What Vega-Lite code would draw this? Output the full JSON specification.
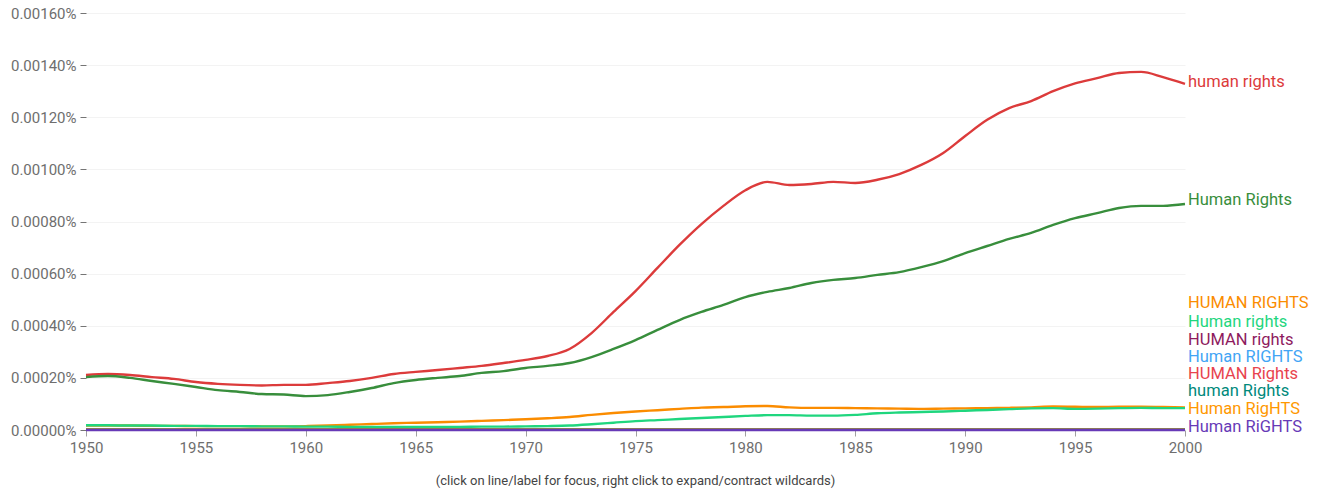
{
  "$schema": "https://vega.github.io/schema/vega-lite/v6.json",
  "autosize": "none",
  "padding": {"left": 86, "top": 13, "right": 150, "bottom": 63},
  "width": 1099,
  "height": 417,
  "config": {"view": {"stroke": null}, "font": "Roboto"},
  "title": {"text": "(click on line/label for focus, right click to expand/contract wildcards)", "orient": "bottom", "anchor": "middle", "fontSize": 13, "fontWeight": "normal", "color": "#444444", "offset": 20, "font": "Roboto"},
  "datasets": {
    "series": [
      {"year":1950,"human rights":0.000211,"Human Rights":0.000203,"HUMAN RIGHTS":0.000017,"Human rights":0.000018,"HUMAN rights":0.000002,"Human RIGHTS":0.000001,"HUMAN Rights":0.000001,"human Rights":0.000002,"Human RigHTS":0.000001,"Human RiGHTS":0.0000002},
      {"year":1951,"human rights":0.000215,"Human Rights":0.000207,"HUMAN RIGHTS":0.000017,"Human rights":0.000018,"HUMAN rights":0.000002,"Human RIGHTS":0.000001,"HUMAN Rights":0.000001,"human Rights":0.000002,"Human RigHTS":0.000001,"Human RiGHTS":0.0000002},
      {"year":1952,"human rights":0.000211,"Human Rights":0.0002,"HUMAN RIGHTS":0.000017,"Human rights":0.000017,"HUMAN rights":0.000002,"Human RIGHTS":0.000001,"HUMAN Rights":0.000001,"human Rights":0.000002,"Human RigHTS":0.000001,"Human RiGHTS":0.0000002},
      {"year":1953,"human rights":0.000203,"Human Rights":0.000188,"HUMAN RIGHTS":0.000016,"Human rights":0.000017,"HUMAN rights":0.000002,"Human RIGHTS":0.000001,"HUMAN Rights":0.000001,"human Rights":0.000002,"Human RigHTS":0.000001,"Human RiGHTS":0.0000002},
      {"year":1954,"human rights":0.000196,"Human Rights":0.000177,"HUMAN RIGHTS":0.000016,"Human rights":0.000016,"HUMAN rights":0.000002,"Human RIGHTS":0.000001,"HUMAN Rights":0.000001,"human Rights":0.000002,"Human RigHTS":0.000001,"Human RiGHTS":0.0000002},
      {"year":1955,"human rights":0.000184,"Human Rights":0.000165,"HUMAN RIGHTS":0.000015,"Human rights":0.000016,"HUMAN rights":0.000002,"Human RIGHTS":0.000001,"HUMAN Rights":0.000001,"human Rights":0.000002,"Human RigHTS":0.000001,"Human RiGHTS":0.0000002},
      {"year":1956,"human rights":0.000177,"Human Rights":0.000153,"HUMAN RIGHTS":0.000015,"Human rights":0.000015,"HUMAN rights":0.000002,"Human RIGHTS":0.000001,"HUMAN Rights":0.000001,"human Rights":0.000002,"Human RigHTS":0.000001,"Human RiGHTS":0.0000002},
      {"year":1957,"human rights":0.000173,"Human Rights":0.000146,"HUMAN RIGHTS":0.000015,"Human rights":0.000015,"HUMAN rights":0.000002,"Human RIGHTS":0.000001,"HUMAN Rights":0.000001,"human Rights":0.000002,"Human RigHTS":0.000001,"Human RiGHTS":0.0000002},
      {"year":1958,"human rights":0.000171,"Human Rights":0.000138,"HUMAN RIGHTS":0.000014,"Human rights":0.000014,"HUMAN rights":0.000002,"Human RIGHTS":0.000001,"HUMAN Rights":0.000001,"human Rights":0.000002,"Human RigHTS":0.000001,"Human RiGHTS":0.0000002},
      {"year":1959,"human rights":0.000173,"Human Rights":0.000136,"HUMAN RIGHTS":0.000014,"Human rights":0.000014,"HUMAN rights":0.000002,"Human RIGHTS":0.000001,"HUMAN Rights":0.000001,"human Rights":0.000002,"Human RigHTS":0.000001,"Human RiGHTS":0.0000002},
      {"year":1960,"human rights":0.000173,"Human Rights":0.00013,"HUMAN RIGHTS":0.000015,"Human rights":0.000013,"HUMAN rights":0.000002,"Human RIGHTS":0.000001,"HUMAN Rights":0.000001,"human Rights":0.000002,"Human RigHTS":0.000001,"Human RiGHTS":0.0000002},
      {"year":1961,"human rights":0.00018,"Human Rights":0.000134,"HUMAN RIGHTS":0.000017,"Human rights":0.000013,"HUMAN rights":0.000002,"Human RIGHTS":0.000001,"HUMAN Rights":0.000001,"human Rights":0.000002,"Human RigHTS":0.000001,"Human RiGHTS":0.0000002},
      {"year":1962,"human rights":0.000188,"Human Rights":0.000146,"HUMAN RIGHTS":0.00002,"Human rights":0.000012,"HUMAN rights":0.000002,"Human RIGHTS":0.000001,"HUMAN Rights":0.000001,"human Rights":0.000002,"Human RigHTS":0.000001,"Human RiGHTS":0.0000002},
      {"year":1963,"human rights":0.0002,"Human Rights":0.000161,"HUMAN RIGHTS":0.000023,"Human rights":0.000012,"HUMAN rights":0.000002,"Human RIGHTS":0.000001,"HUMAN Rights":0.000001,"human Rights":0.000002,"Human RigHTS":0.000001,"Human RiGHTS":0.0000002},
      {"year":1964,"human rights":0.000215,"Human Rights":0.00018,"HUMAN RIGHTS":0.000026,"Human rights":0.000012,"HUMAN rights":0.000002,"Human RIGHTS":0.000001,"HUMAN Rights":0.000001,"human Rights":0.000002,"Human RigHTS":0.000001,"Human RiGHTS":0.0000002},
      {"year":1965,"human rights":0.000223,"Human Rights":0.000192,"HUMAN RIGHTS":0.000028,"Human rights":0.000012,"HUMAN rights":0.000002,"Human RIGHTS":0.000001,"HUMAN Rights":0.000001,"human Rights":0.000002,"Human RigHTS":0.000001,"Human RiGHTS":0.0000002},
      {"year":1966,"human rights":0.00023,"Human Rights":0.0002,"HUMAN RIGHTS":0.00003,"Human rights":0.000012,"HUMAN rights":0.000002,"Human RIGHTS":0.000001,"HUMAN Rights":0.000001,"human Rights":0.000002,"Human RigHTS":0.000001,"Human RiGHTS":0.0000002},
      {"year":1967,"human rights":0.000238,"Human Rights":0.000207,"HUMAN RIGHTS":0.000032,"Human rights":0.000012,"HUMAN rights":0.000002,"Human RIGHTS":0.000001,"HUMAN Rights":0.000001,"human Rights":0.000002,"Human RigHTS":0.000001,"Human RiGHTS":0.0000002},
      {"year":1968,"human rights":0.000246,"Human Rights":0.000219,"HUMAN RIGHTS":0.000035,"Human rights":0.000013,"HUMAN rights":0.000002,"Human RIGHTS":0.000001,"HUMAN Rights":0.000001,"human Rights":0.000002,"Human RigHTS":0.000001,"Human RiGHTS":0.0000002},
      {"year":1969,"human rights":0.000257,"Human Rights":0.000226,"HUMAN RIGHTS":0.000038,"Human rights":0.000013,"HUMAN rights":0.000002,"Human RIGHTS":0.000001,"HUMAN Rights":0.000001,"human Rights":0.000002,"Human RigHTS":0.000001,"Human RiGHTS":0.0000002},
      {"year":1970,"human rights":0.000269,"Human Rights":0.000238,"HUMAN RIGHTS":0.000041,"Human rights":0.000014,"HUMAN rights":0.000002,"Human RIGHTS":0.000001,"HUMAN Rights":0.000001,"human Rights":0.000002,"Human RigHTS":0.000001,"Human RiGHTS":0.0000002},
      {"year":1971,"human rights":0.000284,"Human Rights":0.000246,"HUMAN RIGHTS":0.000045,"Human rights":0.000015,"HUMAN rights":0.000002,"Human RIGHTS":0.000001,"HUMAN Rights":0.000001,"human Rights":0.000002,"Human RigHTS":0.000001,"Human RiGHTS":0.0000002},
      {"year":1972,"human rights":0.000311,"Human Rights":0.000257,"HUMAN RIGHTS":0.00005,"Human rights":0.000017,"HUMAN rights":0.000002,"Human RIGHTS":0.000001,"HUMAN Rights":0.000001,"human Rights":0.000002,"Human RigHTS":0.000001,"Human RiGHTS":0.0000002},
      {"year":1973,"human rights":0.000372,"Human Rights":0.00028,"HUMAN RIGHTS":0.000058,"Human rights":0.000022,"HUMAN rights":0.000002,"Human RIGHTS":0.000001,"HUMAN Rights":0.000001,"human Rights":0.000002,"Human RigHTS":0.000001,"Human RiGHTS":0.0000002},
      {"year":1974,"human rights":0.000453,"Human Rights":0.000311,"HUMAN RIGHTS":0.000065,"Human rights":0.000028,"HUMAN rights":0.000002,"Human RIGHTS":0.000001,"HUMAN Rights":0.000001,"human Rights":0.000002,"Human RigHTS":0.000001,"Human RiGHTS":0.0000002},
      {"year":1975,"human rights":0.000533,"Human Rights":0.000345,"HUMAN RIGHTS":0.000071,"Human rights":0.000034,"HUMAN rights":0.000002,"Human RIGHTS":0.000001,"HUMAN Rights":0.000001,"human Rights":0.000002,"Human RigHTS":0.000001,"Human RiGHTS":0.0000002},
      {"year":1976,"human rights":0.000622,"Human Rights":0.000384,"HUMAN RIGHTS":0.000076,"Human rights":0.000038,"HUMAN rights":0.000002,"Human RIGHTS":0.000001,"HUMAN Rights":0.000001,"human Rights":0.000002,"Human RigHTS":0.000001,"Human RiGHTS":0.0000002},
      {"year":1977,"human rights":0.00071,"Human Rights":0.000422,"HUMAN RIGHTS":0.000081,"Human rights":0.000042,"HUMAN rights":0.000002,"Human RIGHTS":0.000001,"HUMAN Rights":0.000001,"human Rights":0.000002,"Human RigHTS":0.000001,"Human RiGHTS":0.0000002},
      {"year":1978,"human rights":0.00079,"Human Rights":0.000453,"HUMAN RIGHTS":0.000086,"Human rights":0.000046,"HUMAN rights":0.000002,"Human RIGHTS":0.000001,"HUMAN Rights":0.000001,"human Rights":0.000002,"Human RigHTS":0.000001,"Human RiGHTS":0.0000002},
      {"year":1979,"human rights":0.00086,"Human Rights":0.00048,"HUMAN RIGHTS":0.000088,"Human rights":0.00005,"HUMAN rights":0.000002,"Human RIGHTS":0.000001,"HUMAN Rights":0.000001,"human Rights":0.000002,"Human RigHTS":0.000001,"Human RiGHTS":0.0000002},
      {"year":1980,"human rights":0.00092,"Human Rights":0.00051,"HUMAN RIGHTS":0.000091,"Human rights":0.000054,"HUMAN rights":0.000002,"Human RIGHTS":0.000001,"HUMAN Rights":0.000001,"human Rights":0.000002,"Human RigHTS":0.000001,"Human RiGHTS":0.0000002},
      {"year":1981,"human rights":0.000952,"Human Rights":0.00053,"HUMAN RIGHTS":0.000092,"Human rights":0.000057,"HUMAN rights":0.000002,"Human RIGHTS":0.000001,"HUMAN Rights":0.000001,"human Rights":0.000002,"Human RigHTS":0.000001,"Human RiGHTS":0.0000002},
      {"year":1982,"human rights":0.00094,"Human Rights":0.000545,"HUMAN RIGHTS":0.000087,"Human rights":0.000057,"HUMAN rights":0.000002,"Human RIGHTS":0.000001,"HUMAN Rights":0.000001,"human Rights":0.000002,"Human RigHTS":0.000001,"Human RiGHTS":0.0000002},
      {"year":1983,"human rights":0.000944,"Human Rights":0.000564,"HUMAN RIGHTS":0.000085,"Human rights":0.000055,"HUMAN rights":0.000002,"Human RIGHTS":0.000001,"HUMAN Rights":0.000001,"human Rights":0.000002,"Human RigHTS":0.000001,"Human RiGHTS":0.0000002},
      {"year":1984,"human rights":0.000952,"Human Rights":0.000576,"HUMAN RIGHTS":0.000085,"Human rights":0.000055,"HUMAN rights":0.000002,"Human RIGHTS":0.000001,"HUMAN Rights":0.000001,"human Rights":0.000002,"Human RigHTS":0.000001,"Human RiGHTS":0.0000002},
      {"year":1985,"human rights":0.000948,"Human Rights":0.000583,"HUMAN RIGHTS":0.000084,"Human rights":0.000058,"HUMAN rights":0.000002,"Human RIGHTS":0.000001,"HUMAN Rights":0.000001,"human Rights":0.000002,"Human RigHTS":0.000001,"Human RiGHTS":0.0000002},
      {"year":1986,"human rights":0.00096,"Human Rights":0.000595,"HUMAN RIGHTS":0.000083,"Human rights":0.000064,"HUMAN rights":0.000002,"Human RIGHTS":0.000001,"HUMAN Rights":0.000001,"human Rights":0.000002,"Human RigHTS":0.000001,"Human RiGHTS":0.0000002},
      {"year":1987,"human rights":0.000982,"Human Rights":0.000606,"HUMAN RIGHTS":0.000082,"Human rights":0.000067,"HUMAN rights":0.000002,"Human RIGHTS":0.000001,"HUMAN Rights":0.000001,"human Rights":0.000002,"Human RigHTS":0.000001,"Human RiGHTS":0.0000002},
      {"year":1988,"human rights":0.001017,"Human Rights":0.000625,"HUMAN RIGHTS":0.000081,"Human rights":0.000069,"HUMAN rights":0.000002,"Human RIGHTS":0.000001,"HUMAN Rights":0.000001,"human Rights":0.000002,"Human RigHTS":0.000001,"Human RiGHTS":0.0000002},
      {"year":1989,"human rights":0.001063,"Human Rights":0.000648,"HUMAN RIGHTS":0.000082,"Human rights":0.000071,"HUMAN rights":0.000002,"Human RIGHTS":0.000001,"HUMAN Rights":0.000001,"human Rights":0.000002,"Human RigHTS":0.000001,"Human RiGHTS":0.0000002},
      {"year":1990,"human rights":0.001128,"Human Rights":0.000679,"HUMAN RIGHTS":0.000083,"Human rights":0.000074,"HUMAN rights":0.000002,"Human RIGHTS":0.000001,"HUMAN Rights":0.000001,"human Rights":0.000002,"Human RigHTS":0.000001,"Human RiGHTS":0.0000002},
      {"year":1991,"human rights":0.00119,"Human Rights":0.000706,"HUMAN RIGHTS":0.000084,"Human rights":0.000077,"HUMAN rights":0.000002,"Human RIGHTS":0.000001,"HUMAN Rights":0.000001,"human Rights":0.000002,"Human RigHTS":0.000001,"Human RiGHTS":0.0000002},
      {"year":1992,"human rights":0.001235,"Human Rights":0.000733,"HUMAN RIGHTS":0.000085,"Human rights":0.00008,"HUMAN rights":0.000002,"Human RIGHTS":0.000001,"HUMAN Rights":0.000001,"human Rights":0.000002,"Human RigHTS":0.000001,"Human RiGHTS":0.0000002},
      {"year":1993,"human rights":0.001262,"Human Rights":0.000756,"HUMAN RIGHTS":0.000087,"Human rights":0.000083,"HUMAN rights":0.000002,"Human RIGHTS":0.000001,"HUMAN Rights":0.000001,"human Rights":0.000002,"Human RigHTS":0.000001,"Human RiGHTS":0.0000002},
      {"year":1994,"human rights":0.0013,"Human Rights":0.000787,"HUMAN RIGHTS":0.00009,"Human rights":0.000084,"HUMAN rights":0.000002,"Human RIGHTS":0.000001,"HUMAN Rights":0.000001,"human Rights":0.000002,"Human RigHTS":0.000001,"Human RiGHTS":0.0000002},
      {"year":1995,"human rights":0.00133,"Human Rights":0.000813,"HUMAN RIGHTS":0.000089,"Human rights":0.000081,"HUMAN rights":0.000002,"Human RIGHTS":0.000001,"HUMAN Rights":0.000001,"human Rights":0.000002,"Human RigHTS":0.000001,"Human RiGHTS":0.0000002},
      {"year":1996,"human rights":0.00135,"Human Rights":0.000832,"HUMAN RIGHTS":0.000088,"Human rights":0.000082,"HUMAN rights":0.000002,"Human RIGHTS":0.000001,"HUMAN Rights":0.000001,"human Rights":0.000002,"Human RigHTS":0.000001,"Human RiGHTS":0.0000002},
      {"year":1997,"human rights":0.00137,"Human Rights":0.000852,"HUMAN RIGHTS":0.000089,"Human rights":0.000084,"HUMAN rights":0.000002,"Human RIGHTS":0.000001,"HUMAN Rights":0.000001,"human Rights":0.000002,"Human RigHTS":0.000001,"Human RiGHTS":0.0000002},
      {"year":1998,"human rights":0.001374,"Human Rights":0.00086,"HUMAN RIGHTS":0.000089,"Human rights":0.000085,"HUMAN rights":0.000002,"Human RIGHTS":0.000001,"HUMAN Rights":0.000001,"human Rights":0.000002,"Human RigHTS":0.000001,"Human RiGHTS":0.0000002},
      {"year":1999,"human rights":0.001354,"Human Rights":0.00086,"HUMAN RIGHTS":0.000088,"Human rights":0.000084,"HUMAN rights":0.000002,"Human RIGHTS":0.000001,"HUMAN Rights":0.000001,"human Rights":0.000002,"Human RigHTS":0.000001,"Human RiGHTS":0.0000002},
      {"year":2000,"human rights":0.001328,"Human Rights":0.000867,"HUMAN RIGHTS":0.000087,"Human rights":0.000084,"HUMAN rights":0.000002,"Human RIGHTS":0.000001,"HUMAN Rights":0.000001,"human Rights":0.000002,"Human RigHTS":0.000001,"Human RiGHTS":0.0000002}
    ],
    "labels": [
      {"s":"human rights","lv":0.001335},
      {"s":"Human Rights","lv":0.000882},
      {"s":"HUMAN RIGHTS","lv":0.000487},
      {"s":"Human rights","lv":0.000414},
      {"s":"HUMAN rights","lv":0.000345},
      {"s":"Human RIGHTS","lv":0.00028},
      {"s":"HUMAN Rights","lv":0.000215},
      {"s":"human Rights","lv":0.00015},
      {"s":"Human RigHTS","lv":0.0000806},
      {"s":"Human RiGHTS","lv":0.0000115}
    ]
  },
  "layer": [
    {
      "data": {"name": "series"},
      "transform": [{"fold": ["human rights","Human Rights","HUMAN RIGHTS","Human rights","HUMAN rights","Human RIGHTS","HUMAN Rights","human Rights","Human RigHTS","Human RiGHTS"], "as": ["s","v"]}],
      "mark": {"type": "line", "interpolate": "monotone", "strokeWidth": 2.4},
      "encoding": {
        "x": {"field": "year", "type": "quantitative", "scale": {"domain": [1950, 2000], "nice": false, "zero": false},
          "axis": {"title": null, "values": [1950,1955,1960,1965,1970,1975,1980,1985,1990,1995,2000], "format": "d", "grid": false, "domain": false, "labelFlush": false, "tickSize": 6, "tickColor": "#a0a0a0", "labelColor": "#6e6e6e", "labelFontSize": 15, "labelPadding": 4, "labelFont": "Roboto"}},
        "y": {"field": "v", "type": "quantitative", "scale": {"domain": [0, 0.0016], "nice": false},
          "axis": {"title": null, "values": [0,0.0002,0.0004,0.0006,0.0008,0.001,0.0012,0.0014,0.0016], "labelExpr": "format(datum.value, '.5f') + '%'", "domain": false, "gridColor": "#f3f3f3", "gridWidth": 1, "tickSize": 6, "tickColor": "#757575", "labelColor": "#6e6e6e", "labelFontSize": 15, "labelPadding": 4, "labelFont": "Roboto"}},
        "color": {"field": "s", "type": "nominal", "legend": null,
          "scale": {"domain": ["human rights","Human Rights","HUMAN RIGHTS","Human rights","HUMAN rights","Human RIGHTS","HUMAN Rights","human Rights","Human RigHTS","Human RiGHTS"],
            "range": ["#dc3b3b","#388e3c","#fb8c00","#1fd67e","#8e1a5e","#42a5f5","#e8434e","#00897b","#ff9800","#673ab7"]}},
        "detail": {"field": "s"}
      }
    },
    {
      "data": {"name": "labels"},
      "mark": {"type": "text", "align": "left", "baseline": "middle", "dx": 3, "fontSize": 16.5, "font": "Roboto"},
      "encoding": {
        "x": {"datum": 2000, "type": "quantitative"},
        "y": {"field": "lv", "type": "quantitative"},
        "text": {"field": "s"},
        "color": {"field": "s", "type": "nominal", "legend": null}
      }
    }
  ]
}
